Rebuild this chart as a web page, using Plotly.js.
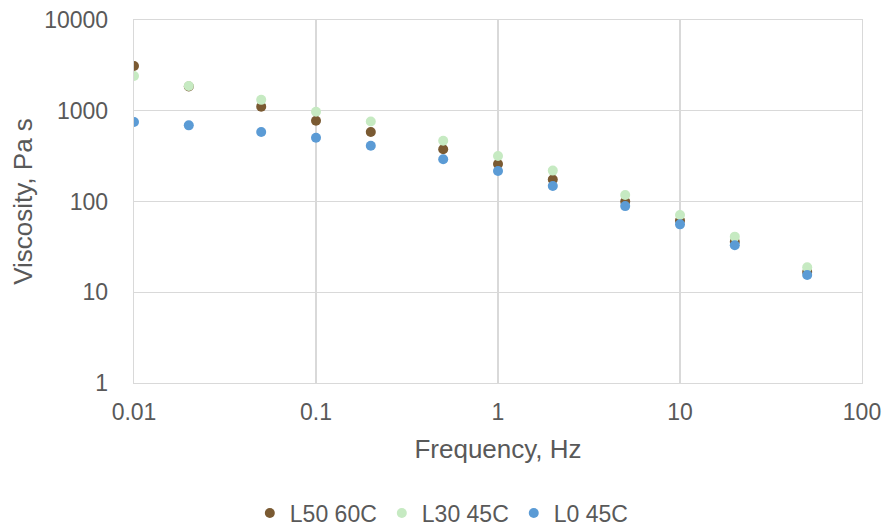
<!DOCTYPE html>
<html>
<head>
<meta charset="utf-8">
<script src="https://cdn.plot.ly/plotly-3.0.1.min.js"></script>
<style>html,body{margin:0;padding:0;background:#fff;}#chart{width:889px;height:530px;}</style>
</head>
<body>
<div id="chart"></div>
<script>
const frequency = [0.01, 0.02, 0.05, 0.1, 0.2, 0.5, 1, 2, 5, 10, 20, 50];
const L50_60C = [3110, 1850, 1110, 776, 583, 376, 259, 175, 100, 61.6, 36, 16.7];
const L30_45C = [2415, 1875, 1318, 977, 760, 468, 317, 219, 118, 71, 41, 18.8];
const L0_45C  = [752, 690, 583, 505, 412, 292, 217, 148, 89, 56, 33, 15.5];
const xTickVals = [0.01, 0.1, 1, 10, 100];
const xTickText = ["0.01", "0.1", "1", "10", "100"];
const yTickVals = [1, 10, 100, 1000, 10000];
const yTickText = ["1", "10", "100", "1000", "10000"];

const font = "Liberation Sans, Arial, sans-serif";
const grey = "#595959";
const grid = "#D9D9D9";

function tr(name, y, color) {
  return {
    type: "scatter", mode: "markers", name: name,
    x: frequency, y: y,
    marker: {color: color, size: 10}
  };
}

const data = [
  tr("L50 60C", L50_60C, "#7A5A32"),
  tr("L30 45C", L30_45C, "#C6EAC2"),
  tr("L0 45C", L0_45C, "#5B9BD5")
];

const layout = {
  width: 889, height: 530,
  margin: {l: 134, r: 27, t: 20, b: 147},
  paper_bgcolor: "#fff", plot_bgcolor: "#fff",
  font: {family: font, color: grey, size: 23},
  showlegend: true,
  legend: {
    orientation: "h", xref: "container", yref: "container",
    x: 0.497, xanchor: "center", y: 0.032, yanchor: "middle",
    font: {size: 23, color: grey}, itemwidth: 30, tracegroupgap: 0
  },
  xaxis: {
    type: "log", range: [-2, 2],
    tickvals: xTickVals, ticktext: xTickText,
    showgrid: true, gridcolor: grid, gridwidth: 1.3,
    showline: true, mirror: true, linecolor: grid, linewidth: 1.3,
    zeroline: false, ticks: "", ticklabelstandoff: 8,
    tickfont: {size: 23, color: grey},
    title: {text: "Frequency, Hz", font: {size: 26, color: grey}, standoff: 16}
  },
  yaxis: {
    type: "log", range: [0, 4],
    tickvals: yTickVals, ticktext: yTickText,
    showgrid: true, gridcolor: grid, gridwidth: 1.3,
    showline: true, mirror: true, linecolor: grid, linewidth: 1.3,
    zeroline: false, ticks: "", ticklabelstandoff: 20,
    tickfont: {size: 23, color: grey},
    title: {text: "Viscosity, Pa s", font: {size: 26, color: grey}, standoff: 4}
  }
};

Plotly.newPlot("chart", data, layout, {displayModeBar: false, staticPlot: true});
</script>
</body>
</html>
